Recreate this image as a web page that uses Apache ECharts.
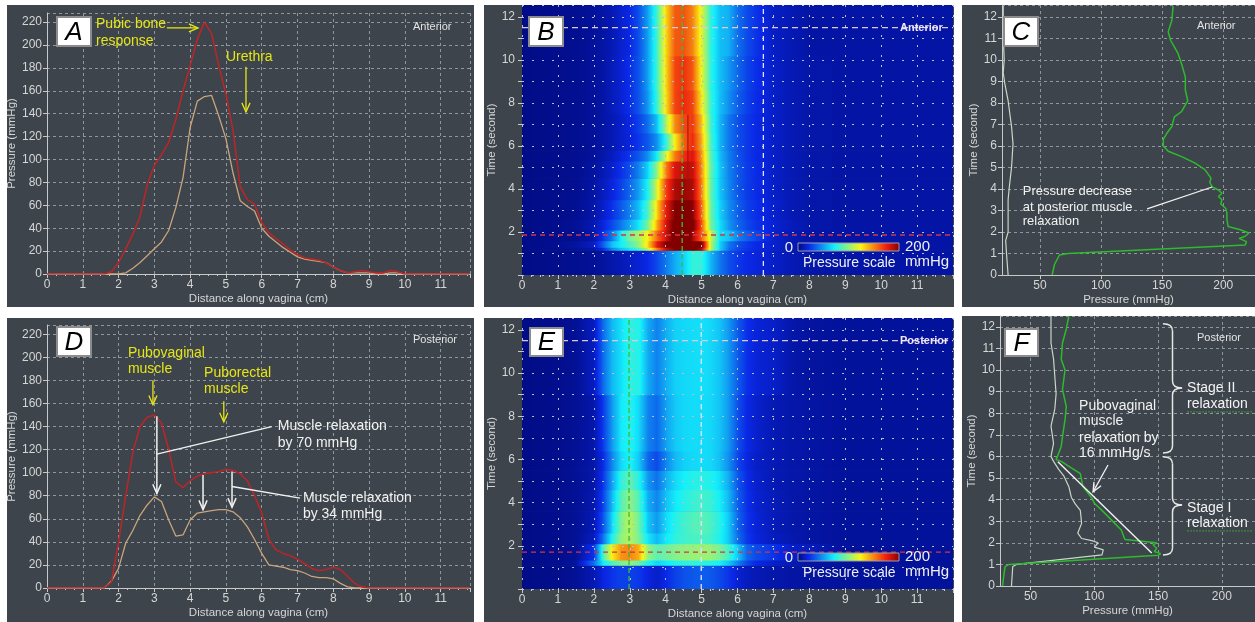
<!DOCTYPE html>
<html>
<head>
<meta charset="utf-8">
<script src="https://cdn.jsdelivr.net/npm/echarts@6/dist/echarts.min.js"></script>
<style>
  html, body { margin: 0; padding: 0; background: #fff; }
  #chart { width: 1255px; height: 622px; }
</style>
</head>
<body>
<div id="chart"></div>
<script>
// distance along vagina (cm) for the A / D profiles
const dist = [0,0.2,0.4,0.6,0.8,1,1.2,1.4,1.6,1.8,2,2.2,2.4,2.6,2.8,3,3.2,3.4,3.6,3.8,4,4.2,4.4,4.6,4.8,5,5.2,5.4,5.6,5.8,6,6.2,6.4,6.6,6.8,7,7.2,7.4,7.6,7.8,8,8.2,8.4,8.6,8.8,9,9.2,9.4,9.6,9.8,10,10.2,10.4,10.6,10.8,11,11.2,11.4,11.6,11.8];
// anterior profiles (mmHg): red at ~1.85 s, tan at ~11.5 s
const antRed = [0,0,0,0,0,0,0,0,0,2,10,22,35,50,78,95,104,115,135,160,182,205,220,210,182,157,125,76,65,61,45,36,31,26,21,17,14,13,12,10,6,3,1,2,3,2,1,1,3,2,0,0,0,0,0,0,0,0,0,0];
const antTan = [0,0,0,0,0,0,0,0,0,0,0,1,5,10,16,22,28,38,58,84,128,151,155,156,138,118,88,64,59,55,40,33,28,23,19,15,13,12,11,10,6,3,1,1,1,1,0,0,1,1,0,0,0,0,0,0,0,0,0,0];
// posterior profiles (mmHg): red at ~1.7 s, tan at ~11.5 s
const postRed = [0,0,0,0,0,0,0,0,0,5,40,80,118,140,148,150,143,120,92,87,93,97,99,100,101,103,102,99,93,80,65,42,33,30,28,25,21,17,15,16,18,16,10,4,1,0,0,0,0,0,0,0,0,0,0,0,0,0,0,0];
const postTan = [0,0,0,0,0,0,0,0,0,6,17,39,50,63,72,79,75,59,45,46,59,65,66,67,68,68,66,61,53,42,30,20,19,18,16,15,13,10,9,9,8,4,1,0,0,0,0,0,0,0,0,0,0,0,0,0,0,0,0,0];

// C: pressure over time, anterior (green at 4.5 cm, white at 6.75 cm)
const antGreenT = [0,0.5,0.93,1.0,1.4,1.55,1.7,1.8,1.95,2.1,2.25,2.6,2.9,3.1,3.3,3.5,3.65,3.8,3.95,4.1,4.3,4.5,4.9,5.2,5.5,5.75,6.0,6.3,6.6,6.9,7.35,7.6,8.1,8.6,9.2,9.8,10.3,10.6,10.9,11.3,11.85,12.5];
const antGreenP = [60,62,66,73,218,219,213,218,221,214,204,203,203,202,198,199,196,199,196,191,189,190,185,177,166,155,151,151,154,158,160,166,171,169,169,166,163,160,157,155,158,159];
const antWhiteT = [0,1.0,1.6,2.0,3.5,4.1,5.0,6.1,6.9,8.1,8.9,9.4,10.0,11.2,12.5];
const antWhiteP = [24,22.7,22,24,24,25,26.8,28,26.8,24,21.3,20,20.8,20,20];

// F: pressure over time, posterior (green at 3 cm, white at 5 cm)
const postGreenT = [0,0.5,0.9,1.0,1.42,1.5,1.6,1.75,1.9,2.0,2.05,2.15,2.6,2.9,3.2,3.5,3.83,4.07,4.6,5.2,5.5,5.77,5.85,6.15,6.46,6.9,7.7,8.3,9.1,10.0,10.5,11.25,11.9,12.5];
const postGreenP = [28,29,30,33,150,152,147,149,146,149,141,124,121,116,111,106,100,98,91,89,81,74,70,72,74,75,77,78,75,77,74,75,78,80];
const postWhiteT = [0,0.9,1.0,1.44,1.67,1.8,2.0,2.1,2.2,2.45,2.9,3.5,3.8,4.1,4.6,5.1,5.4,5.77,6.0,6.6,7.4,8.2,8.9,9.7,10.5,11.25,12.5];
const postWhiteP = [35,36,39,106,107,100,103,98,90,87,90,89,85,82,80,76,72,68,66,68,66,69,70,69,68,66,66];

// pressure maps (B, E): distances, row time edges, rows of mmHg
const heatX = [0,1,1.5,2,2.25,2.5,2.75,3,3.25,3.5,3.75,4,4.25,4.5,4.75,5,5.25,5.5,5.75,6,6.25,6.5,7,7.5,8,9,10,11,12];
const antHeatTimes = [0,1.15,1.3,1.6,2.1,2.6,3.5,4.5,5.3,5.8,6.6,7.5,8.6,10.2,12.55];
const antHeatRows = [
  [3,4,5,6,8,10,12,15,18,22,30,42,55,64,80,78,58,42,32,26,22,20,16,12,10,9,9,9,9],
  [3,5,6,10,22,45,60,70,85,110,150,185,200,205,205,190,110,65,40,30,25,22,17,12,10,9,9,9,9],
  [3,5,8,15,35,60,72,85,100,130,175,200,215,220,220,205,110,65,42,32,26,22,17,12,10,9,9,9,9],
  [3,4,5,10,25,42,72,95,106,125,155,182,208,216,192,157,115,68,61,45,36,30,17,12,9,9,9,9,9],
  [3,4,6,12,20,30,42,55,70,95,140,180,205,210,205,160,95,68,50,38,30,25,18,13,10,9,9,9,9],
  [3,4,5,10,16,24,34,45,60,85,130,175,200,203,198,155,92,65,48,36,28,24,17,12,10,9,9,9,9],
  [3,4,5,9,14,20,28,38,52,75,115,165,190,194,190,150,90,62,46,34,27,23,16,12,10,9,9,9,9],
  [3,4,5,8,12,17,24,32,45,65,100,150,180,185,185,148,90,62,45,34,27,23,16,12,10,9,9,9,9],
  [3,4,5,7,10,14,20,26,34,48,72,115,152,170,180,145,88,60,44,33,26,22,16,12,10,9,9,9,9],
  [3,4,5,7,9,12,16,20,26,34,48,78,125,158,172,140,85,58,42,32,26,22,16,12,10,9,9,9,9],
  [3,4,5,7,9,12,16,21,28,40,60,105,148,164,168,135,82,58,42,32,26,22,16,12,10,9,9,9,9],
  [3,4,5,7,9,13,18,24,33,50,80,128,165,172,165,125,80,60,48,36,28,23,16,12,10,9,9,9,9],
  [3,4,5,7,9,13,18,24,33,52,82,130,165,170,160,120,78,60,50,38,29,24,16,12,10,9,9,9,9],
  [3,4,5,7,9,12,17,22,32,52,82,130,160,162,150,118,78,60,56,40,31,25,15,12,9,9,9,9,9]
];
const postHeatTimes = [0,1.1,1.35,2.1,2.6,3.6,4.6,5.5,6.4,9.0,12.55];
const postHeatRows = [
  [3,4,6,12,20,25,28,28,26,20,16,22,28,32,34,35,34,30,25,18,14,12,10,9,8,7,7,7,7],
  [3,5,8,40,70,85,95,100,90,75,65,70,75,78,78,78,76,72,62,45,30,22,16,12,9,7,7,7,7],
  [3,4,6,25,82,125,146,150,140,100,88,92,97,100,101,103,101,95,82,62,38,31,25,16,14,7,7,7,7],
  [3,4,6,14,40,75,100,108,95,70,58,70,78,82,84,85,82,75,62,40,26,20,14,11,9,7,7,7,7],
  [3,4,6,12,32,65,95,110,92,62,50,66,76,82,86,88,84,76,62,38,25,19,13,10,9,7,7,7,7],
  [3,4,6,11,28,58,86,100,85,56,45,60,70,76,80,83,80,72,58,36,24,18,13,10,9,7,7,7,7],
  [3,4,6,10,25,52,78,89,76,50,40,55,66,72,76,77,75,68,55,34,23,17,12,10,9,7,7,7,7],
  [3,4,6,10,22,45,66,74,62,38,30,45,58,64,66,67,66,60,48,30,21,16,12,10,9,7,7,7,7],
  [3,4,6,10,26,50,70,76,66,45,38,52,62,66,67,67,66,61,50,32,22,17,12,10,9,7,7,7,7],
  [3,4,6,14,38,58,68,78,76,55,44,55,64,66,67,68,66,61,50,35,24,19,16,10,8,7,7,7,7]
];

// jet-like pressure colour scale, 0..200 mmHg
const jetStops = [[0,[0,8,120]],[0.11,[10,40,230]],[0.36,[20,240,250]],[0.62,[250,245,20]],[0.87,[240,30,15]],[1,[130,0,0]]];
const rgb = c => 'rgb(' + c.map(Math.round).join(',') + ')';
function jet(v) {
  const f = Math.max(0, Math.min(1, v / 200));
  for (let i = 1; i < jetStops.length; i++) {
    const a = jetStops[i - 1], b = jetStops[i];
    if (f <= b[0]) {
      const k = (f - a[0]) / (b[0] - a[0]);
      return rgb(a[1].map((c, j) => c + (b[1][j] - c) * k));
    }
  }
  return rgb(jetStops[jetStops.length - 1][1]);
}
function cellGradient(v0, v1) {
  const stops = [{ offset: 0, color: jet(v0) }, { offset: 1, color: jet(v1) }];
  if (v1 !== v0) {
    jetStops.forEach(s => {
      const f = (s[0] * 200 - v0) / (v1 - v0);
      if (f > 0 && f < 1) stops.push({ offset: f, color: rgb(s[1]) });
    });
  }
  stops.sort((p, q) => p.offset - q.offset);
  return new echarts.graphic.LinearGradient(0, 0, 1, 0, stops);
}
function heatCells(edges, rows) {
  const out = [];
  rows.forEach((row, r) => {
    for (let i = 0; i < heatX.length - 1; i++) {
      out.push([heatX[i], heatX[i + 1], edges[r], edges[r + 1], row[i], row[i + 1]]);
    }
  });
  return out;
}
function renderHeat(params, api) {
  const a = api.coord([api.value(0), api.value(3)]);
  const b = api.coord([api.value(1), api.value(2)]);
  return {
    type: 'rect',
    shape: { x: a[0], y: a[1], width: b[0] - a[0] + 0.6, height: b[1] - a[1] + 0.6 },
    style: { fill: cellGradient(api.value(4), api.value(5)) }
  };
}
const pairs = (xs, ys) => xs.map((x, i) => [x, ys[i]]);

const chart = echarts.init(document.getElementById('chart'));

const FONT = 'Arial';
const LABEL = '#d6d6d6';
const AXIS = '#c9c9c9';
const dashed = { show: true, lineStyle: { color: '#8f969c', type: [3, 3], width: 1 } };
const dotted = { show: true, lineStyle: { color: '#b9bdd2', type: [2, 8], width: 1 } };
const intOnly = v => (Number.isInteger(v) ? v : '');

function axis(o) {
  return Object.assign({
    type: 'value',
    nameLocation: 'middle',
    nameTextStyle: { color: LABEL, fontSize: 11.5, fontFamily: FONT },
    axisLine: { show: true, onZero: false, lineStyle: { color: AXIS } },
    axisTick: { show: true, length: 4, lineStyle: { color: AXIS } },
    splitLine: dashed
  }, o);
}
function labels(o) {
  return Object.assign({ color: LABEL, fontSize: 12, fontFamily: FONT, margin: 5, showMaxLabel: false }, o);
}
const minor = { show: true, splitNumber: 4, length: 2, lineStyle: { color: AXIS } };

const grid = [
  { left: 47, top: 13, width: 423, height: 261 },
  { left: 522, top: 5, width: 431, height: 270 },
  { left: 1002, top: 5, width: 253, height: 270 },
  { left: 47, top: 325, width: 423, height: 263 },
  { left: 522, top: 318, width: 431, height: 271 },
  { left: 1000, top: 316, width: 255, height: 270 }
];

const distAxis = (gi, max) => axis({
  gridIndex: gi, min: 0, max: max, interval: 1,
  name: 'Distance along vagina (cm)', nameGap: 19,
  minorTick: minor,
  axisLabel: labels({ formatter: v => (Number.isInteger(v) && v < 12 ? v : '') })
});
const mapDistAxis = gi => Object.assign(distAxis(gi, 12), {
  z: 5, splitLine: dotted, axisLine: { show: false }
});
const pressYAxis = gi => axis({
  gridIndex: gi, min: 0, max: 228, interval: 20,
  name: 'Pressure (mmHg)', nameGap: 28,
  axisLabel: labels({ formatter: v => (v % 20 === 0 ? v : '') })
});
const timeMapAxis = gi => axis({
  gridIndex: gi, min: 0, max: 12.55, interval: 1, z: 5,
  name: 'Time (second)', nameGap: 20,
  axisLine: { show: false },
  splitLine: dotted,
  axisLabel: labels({ margin: 7, formatter: v => (v > 0 && v % 2 === 0 ? v : '') })
});
const timeAxis = (gi, max) => axis({
  gridIndex: gi, min: 0, max: max, interval: 1,
  name: 'Time (second)', nameGap: 21,
  axisLabel: labels({ formatter: intOnly })
});
const pressXAxis = (gi, min) => axis({
  gridIndex: gi, min: min, max: 226,
  name: 'Pressure (mmHg)', nameGap: 19,
  axisTick: { show: true, length: 4, lineStyle: { color: AXIS }, customValues: [50, 100, 150, 200] },
  axisLabel: { color: LABEL, fontSize: 12, fontFamily: FONT, margin: 5, customValues: [50, 100, 150, 200] }
});

const lineSeries = (gi, data, color, width) => ({
  type: 'line', xAxisIndex: gi, yAxisIndex: gi, data: data,
  showSymbol: false, symbol: 'none', silent: true, z: 3,
  lineStyle: { color: color, width: width || 1.4 }
});
const heatSeries = (gi, edges, rows) => ({
  type: 'custom', xAxisIndex: gi, yAxisIndex: gi, renderItem: renderHeat,
  data: heatCells(edges, rows), encode: { x: [0, 1], y: [2, 3] }, clip: true, silent: true, z: 1
});

const RED = '#b8262a', TAN = '#c9a47c', GREEN = '#2dbb2d', PALE = '#c6d8c6';

// panel backgrounds
const bg = [[7, 5, 467, 302], [484, 5, 470, 302], [962, 5, 293, 302], [7, 318, 467, 304], [484, 318, 470, 304], [962, 316, 293, 306]];
const base = bg.map(b => ({ type: 'rect', z: -10, silent: true, shape: { x: b[0], y: b[1], width: b[2], height: b[3] }, style: { fill: '#3d444b' } }));

chart.setOption({
  animation: false,
  backgroundColor: '#ffffff',
  textStyle: { fontFamily: FONT },
  grid: grid,
  xAxis: [
    distAxis(0, 11.82), mapDistAxis(1), pressXAxis(2, 19),
    distAxis(3, 11.82), mapDistAxis(4), pressXAxis(5, 26)
  ],
  yAxis: [
    pressYAxis(0), timeMapAxis(1), timeAxis(2, 12.55),
    pressYAxis(3), timeMapAxis(4), timeAxis(5, 12.5)
  ],
  series: [
    lineSeries(0, pairs(dist, antTan), TAN, 1.3),
    lineSeries(0, pairs(dist, antRed), RED, 1.6),
    heatSeries(1, antHeatTimes, antHeatRows),
    lineSeries(2, pairs(antWhiteP, antWhiteT), PALE, 1.2),
    lineSeries(2, pairs(antGreenP, antGreenT), GREEN, 1.5),
    lineSeries(3, pairs(dist, postTan), TAN, 1.3),
    lineSeries(3, pairs(dist, postRed), RED, 1.6),
    heatSeries(4, postHeatTimes, postHeatRows),
    lineSeries(5, pairs(postWhiteP, postWhiteT), PALE, 1.2),
    lineSeries(5, pairs(postGreenP, postGreenT), GREEN, 1.5)
  ],
  graphic: { elements: base }
});

// annotations, placed through the axes of each panel
const P = (gi, x, y) => chart.convertToPixel({ gridIndex: gi }, [x, y]);
function text(p, s, o) {
  o = o || {};
  return {
    type: 'text', x: p[0], y: p[1], z: 30, silent: true,
    style: {
      text: s, fill: o.color || '#ffffff',
      font: [o.style, o.weight, (o.size || 14) + 'px', FONT].filter(Boolean).join(' '),
      align: o.align || 'left', verticalAlign: 'middle'
    }
  };
}
function seg(p, q, color, width, dash) {
  return {
    type: 'line', z: 28, silent: true,
    shape: { x1: p[0], y1: p[1], x2: q[0], y2: q[1] },
    style: { stroke: color, lineWidth: width || 1, lineDash: dash || null }
  };
}
function arrow(p, q, color, width) {
  const ang = Math.atan2(p[1] - q[1], p[0] - q[0]);
  const L = 10, a = 0.42;
  const h1 = [q[0] + L * Math.cos(ang + a), q[1] + L * Math.sin(ang + a)];
  const h2 = [q[0] + L * Math.cos(ang - a), q[1] + L * Math.sin(ang - a)];
  return [seg(p, q, color, width), {
    type: 'polyline', z: 28, silent: true,
    shape: { points: [h1, q, h2] }, style: { stroke: color, lineWidth: width, fill: null }
  }];
}
function curve(x1, y1, cx, cy, x2, y2) {
  return {
    type: 'bezierCurve', z: 28, silent: true,
    shape: { x1: x1, y1: y1, cpx1: cx, cpy1: cy, x2: x2, y2: y2 },
    style: { stroke: '#e8e8e8', lineWidth: 1.5, fill: null }
  };
}
function brace(x0, yTop, yBot, xTip, yMid) {
  const xm = (x0 + xTip) / 2, r = 7, c = '#e8e8e8';
  return [
    curve(x0, yTop, xm, yTop, xm, yTop + r),
    seg([xm, yTop + r], [xm, yMid - r], c, 1.5),
    curve(xm, yMid - r, xm, yMid, xTip, yMid),
    curve(xTip, yMid, xm, yMid, xm, yMid + r),
    seg([xm, yMid + r], [xm, yBot - r], c, 1.5),
    curve(xm, yBot - r, xm, yBot, x0, yBot)
  ];
}
function letter(x, y, w, h, s) {
  return [
    { type: 'rect', z: 30, silent: true, shape: { x: x, y: y, width: w, height: h }, style: { fill: '#ffffff', stroke: '#8c8c8c', lineWidth: 2 } },
    text([x + w / 2, y + h / 2 + 1], s, { color: '#000000', size: 26, style: 'italic', align: 'center' })
  ];
}
function colorBar(y) {
  return [
    { type: 'rect', z: 30, silent: true, shape: { x: 798, y: y, width: 101, height: 8 },
      style: { fill: new echarts.graphic.LinearGradient(0, 0, 1, 0, jetStops.map(s => ({ offset: s[0], color: rgb(s[1]) }))), stroke: '#9a9aae', lineWidth: 1 } },
    text([789, y + 5], '0', { size: 15, color: '#f0f0f0', align: 'center' }),
    text([905, y + 4], '200', { size: 15, color: '#f0f0f0' }),
    text([803, y + 20], 'Pressure scale', { size: 14, color: '#f0f0f0' }),
    text([905, y + 19], 'mmHg', { size: 15, color: '#f0f0f0' })
  ];
}

const YEL = '#e6e616', WHITE = '#f2f2f2';
const ann = [].concat(
  letter(57, 17, 34, 29, 'A'), letter(529, 17, 34, 29, 'B'), letter(1004, 17, 34, 29, 'C'),
  letter(57, 327, 34, 29, 'D'), letter(530, 328, 33, 28, 'E'), letter(1005, 329, 33, 27, 'F'),
  [
    text([413, 27], 'Anterior', { size: 11, color: '#e4e4e4' }),
    text([413, 340], 'Posterior', { size: 11, color: '#e4e4e4' }),
    text([1197, 26], 'Anterior', { size: 11, color: '#e4e4e4' }),
    text([1197, 338], 'Posterior', { size: 11, color: '#e4e4e4' })
  ],
  // A
  [
    text(P(0, 1.37, 218), 'Pubic bone', { color: YEL }),
    text(P(0, 1.37, 203.5), 'response', { color: YEL }),
    text(P(0, 5.0, 189.5), 'Urethra', { color: YEL })
  ],
  arrow(P(0, 3.35, 215), P(0, 4.22, 215), YEL, 1.3),
  arrow(P(0, 5.56, 181), P(0, 5.56, 141.5), YEL, 1.3),
  // D
  [
    text(P(3, 2.26, 204), 'Pubovaginal', { color: YEL }),
    text(P(3, 2.26, 190), 'muscle', { color: YEL }),
    text(P(3, 4.39, 186.5), 'Puborectal', { color: YEL }),
    text(P(3, 4.39, 172.5), 'muscle', { color: YEL }),
    seg(P(3, 3.07, 116), P(3, 6.28, 140), WHITE, 1.3),
    text(P(3, 6.45, 140), 'Muscle relaxation', { color: WHITE }),
    text(P(3, 6.45, 126), 'by 70 mmHg', { color: WHITE }),
    seg(P(3, 5.17, 88), P(3, 7.07, 78), WHITE, 1.3),
    text(P(3, 7.15, 78), 'Muscle relaxation', { color: WHITE }),
    text(P(3, 7.15, 64), 'by 34 mmHg', { color: WHITE })
  ],
  arrow(P(3, 2.96, 180), P(3, 2.96, 159), YEL, 1.3),
  arrow(P(3, 4.94, 162), P(3, 4.94, 144), YEL, 1.3),
  arrow(P(3, 3.07, 149), P(3, 3.07, 82), WHITE, 1.5),
  arrow(P(3, 4.36, 98), P(3, 4.36, 68), WHITE, 1.5),
  arrow(P(3, 5.17, 101), P(3, 5.17, 70), WHITE, 1.5),
  // B crosshairs and labels
  [
    seg(P(1, 0, 11.5), P(1, 12, 11.5), '#d9c9dd', 1.3, [6, 4]),
    seg(P(1, 0, 1.86), P(1, 12, 1.86), '#d4354a', 1.3, [5, 4]),
    seg(P(1, 4.46, 0), P(1, 4.46, 12.55), '#3dbb3d', 1.3, [5, 3]),
    seg(P(1, 6.72, 0), P(1, 6.72, 12.55), '#e2e2ff', 1.3, [5, 4]),
    seg(P(1, 4.62, 4.0), P(1, 4.62, 7.45), '#a01010', 1),
    text([900, 28], 'Anterior', { size: 11, weight: 'bold', color: '#f0e6f5' })
  ],
  colorBar(243),
  // E crosshairs and labels
  [
    seg(P(4, 0, 11.5), P(4, 12, 11.5), '#d9c9dd', 1.3, [6, 4]),
    seg(P(4, 0, 1.71), P(4, 12, 1.71), '#d4354a', 1.3, [5, 4]),
    seg(P(4, 2.98, 0), P(4, 2.98, 12.55), '#3dbb3d', 1.3, [5, 3]),
    seg(P(4, 4.99, 0), P(4, 4.99, 12.55), '#e2e2ff', 1.3, [5, 4]),
    text([900, 341], 'Posterior', { size: 11, weight: 'bold', color: '#f0e6f5' })
  ],
  colorBar(553),
  // C
  [
    text(P(2, 36, 3.9), 'Pressure decrease', { size: 13, color: WHITE }),
    text(P(2, 36, 3.16), 'at posterior muscle', { size: 13, color: WHITE }),
    text(P(2, 36, 2.47), 'relaxation', { size: 13, color: WHITE }),
    seg(P(2, 137.7, 3.07), P(2, 191, 4.09), WHITE, 1.3)
  ],
  // F
  [
    text(P(5, 88, 8.34), 'Pubovaginal', { color: WHITE }),
    text(P(5, 88, 7.65), 'muscle', { color: WHITE }),
    text(P(5, 88, 6.86), 'relaxation by', { color: WHITE }),
    text(P(5, 88, 6.16), '16 mmHg/s', { color: WHITE }),
    seg(P(5, 71.4, 5.75), P(5, 145, 1.53), WHITE, 1.4),
    text(P(5, 172.7, 9.17), 'Stage II', { color: WHITE }),
    text(P(5, 172.7, 8.43), 'relaxation', { color: WHITE }),
    text(P(5, 172.7, 3.6), 'Stage I', { color: WHITE }),
    text(P(5, 172.7, 2.92), 'relaxation', { color: WHITE })
  ],
  arrow(P(5, 110.7, 5.6), P(5, 99, 4.36), WHITE, 1.3)
);

// green underlines under "relaxation" in F
[8.43, 2.92].forEach(t => {
  const p = P(5, 172.7, t);
  ann.push(seg([p[0], p[1] + 8], [p[0] + 66, p[1] + 8], '#3f9a3f', 1, [2, 1]));
});

// braces in panel F, spanning the two relaxation stages
const bTop = P(5, 153.8, 12.14), bMid = P(5, 168.8, 9.17), bBot = P(5, 153.8, 6.16);
const cTop = P(5, 153.8, 5.98), cMid = P(5, 168.8, 3.75), cBot = P(5, 153.8, 1.44);
brace(bTop[0], bTop[1], bBot[1], bMid[0], bMid[1]).forEach(e => ann.push(e));
brace(cTop[0], cTop[1], cBot[1], cMid[0], cMid[1]).forEach(e => ann.push(e));

chart.setOption({ graphic: { elements: base.concat(ann) } });
</script>
</body>
</html>
